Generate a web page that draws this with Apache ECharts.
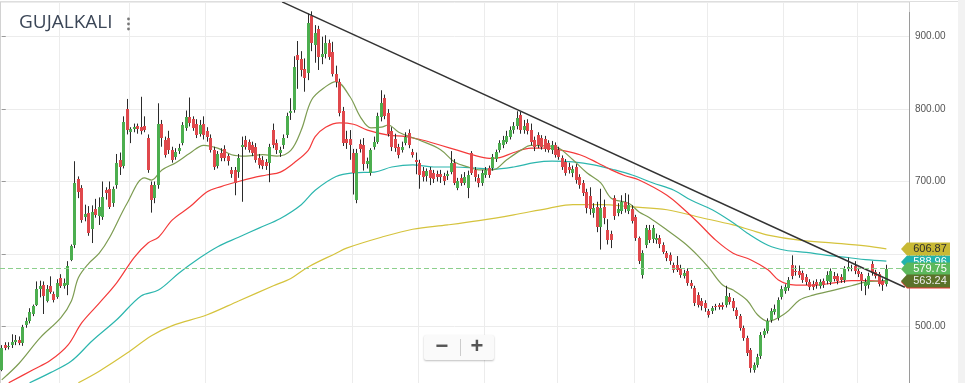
<!DOCTYPE html>
<html><head><meta charset="utf-8">
<script src="https://cdn.jsdelivr.net/npm/echarts@6/dist/echarts.min.js"></script>
<style>html,body{margin:0;padding:0;background:#fff;overflow:hidden}#c{width:965px;height:383px;}</style>
</head><body><div id="c"></div>
<script>
const chartTitle = 'GUJALKALI';
const opens = [440,474,471,474,478,481,477,502,507,517,530,551,557,535,556,545,540,567,556,557,592,612,704,691,651,656,634,662,652,651,688,689,670,695,730,722,800,768,772,776,775,777,760,695,677,695,779,757,760,743,734,742,753,774,789,786,779,766,779,770,760,744,722,740,745,735,716,716,713,747,757,755,750,748,732,730,727,726,771,753,740,751,764,795,799,875,869,856,850,928,889,910,872,876,891,879,849,838,797,758,758,739,674,752,750,724,712,748,755,789,815,795,770,758,748,744,753,767,741,730,725,715,708,716,712,711,711,708,707,713,726,691,705,698,691,739,716,705,698,709,718,719,731,743,750,755,762,771,776,792,771,781,771,757,764,760,759,753,743,750,743,732,727,720,712,720,706,698,686,680,657,665,637,665,633,628,677,657,659,672,659,662,651,622,571,612,633,620,619,622,612,601,598,584,584,581,570,576,560,553,543,535,532,521,521,528,529,529,530,541,535,522,514,498,484,467,440,447,459,488,494,509,520,512,541,549,553,584,577,577,573,568,561,559,561,556,562,562,561,570,569,568,564,579,579,583,577,572,555,557,586,575,572,562,559];
const closes = [470,470,473,479,481,477,499,507,520,528,551,555,542,551,547,536,560,556,560,583,611,698,686,647,655,629,658,654,665,679,684,665,689,725,720,782,771,772,775,773,770,771,716,674,695,779,760,737,743,730,741,746,778,789,781,774,764,778,764,762,744,720,738,733,732,728,710,698,733,750,748,743,739,730,723,722,721,748,750,743,744,760,790,798,858,868,854,843,919,891,905,872,876,891,872,849,838,794,753,753,750,712,739,745,724,728,743,754,790,808,790,765,748,746,737,748,762,750,737,727,709,706,714,705,703,706,706,701,710,725,698,700,698,706,709,712,706,698,712,716,709,734,741,753,757,763,771,776,788,771,776,770,755,747,751,748,745,744,751,737,734,720,712,716,717,702,695,684,663,662,663,637,663,649,619,619,652,662,672,662,668,646,622,590,601,636,619,636,622,613,603,594,590,578,578,571,574,560,556,532,530,528,525,516,525,526,526,527,542,534,525,514,498,484,463,443,446,458,488,494,507,521,524,536,552,554,564,569,575,571,564,561,554,554,557,561,557,571,577,566,562,564,579,582,581,576,572,562,561,570,574,570,559,557,579.75];
const highs = [474,478,478,489,488,486,502,512,525,530,562,563,562,557,569,548,565,572,566,590,613,728,707,695,668,666,667,676,678,700,692,700,693,738,740,790,814,775,780,780,817,790,765,700,700,808,785,762,770,748,746,752,782,798,816,790,786,785,790,775,765,748,742,746,750,738,720,720,738,762,763,758,755,753,738,735,731,752,780,758,748,765,795,815,873,894,880,870,932,935,916,915,900,902,896,893,860,842,803,770,771,745,745,758,760,733,746,762,795,826,820,800,775,766,752,755,768,772,745,740,730,720,718,720,716,715,716,712,715,742,731,705,710,713,715,742,720,710,716,720,722,738,744,757,763,770,776,782,797,796,785,786,780,762,768,764,763,757,756,754,748,736,731,726,722,724,710,702,690,692,670,672,690,675,648,632,681,670,681,684,682,667,654,624,605,640,640,640,628,626,616,604,602,588,597,585,578,580,564,556,547,539,536,524,528,531,532,533,556,546,539,526,517,501,487,470,450,462,492,497,511,525,530,540,556,558,568,598,584,584,577,572,565,563,565,565,566,576,580,575,573,572,583,595,585,590,581,575,566,574,590,578,575,566,585];
const lows = [438,467,468,470,474,474,473,498,504,514,528,540,517,533,545,533,538,553,552,543,590,608,677,643,645,625,615,650,640,647,675,662,665,690,709,718,765,753,768,766,765,768,712,657,670,690,748,733,738,726,730,738,750,770,776,770,760,762,758,755,740,716,718,728,728,722,705,681,705,672,744,740,735,726,718,717,716,699,746,738,734,745,760,785,795,828,845,824,840,880,864,854,862,870,868,845,830,790,749,745,730,682,670,740,715,718,708,744,752,783,786,762,742,741,732,740,750,746,733,710,690,700,700,695,698,700,698,695,702,710,695,688,694,695,677,709,700,692,694,705,705,715,727,740,746,752,758,766,772,766,766,765,750,742,746,744,741,740,738,733,730,716,708,711,706,697,690,680,656,654,650,630,606,641,613,608,647,652,655,657,655,642,618,586,566,608,615,615,614,608,600,590,585,574,575,567,566,556,552,528,526,522,520,512,517,522,523,523,526,530,521,510,494,480,459,436,436,443,455,484,490,505,516,508,537,545,549,565,570,567,560,557,550,550,552,552,553,558,557,562,558,560,560,576,576,572,568,549,543,552,570,566,555,549,555];
const emptySlots = 6;
const monthStarts = [17,37,59,101,120,139,160,182,203,225,246];
const yearStart = 78;

const fastDays = [0,5,11,17,20,22,25,28,31,36,41,43,46,50,54,58,62,66,70,75,79,83,86,89,93,96,100,103,106,109,111,114,120,126,130,134,137,141,145,149,152,157,160,164,168,172,175,180,183,186,191,196,200,203,207,210,214,217,220,225,229,233,239,244,248,254];
const fastVals = [426,449,484,512,535,567,587,601,623,670,705,702,716,726,739,750,746,737,735,737,735,743,771,813,831,838,817,789,774,775,778,768,757,744,727,720,716,716,730,743,750,749,746,730,712,698,677,670,658,650,633,615,597,581,557,550,536,516,507,518,536,543,550,556,561,563.24];
const redDays = [2,9,14,19,23,28,33,38,42,45,49,54,59,63,68,72,76,80,84,88,90,93,97,101,105,111,116,121,126,131,135,140,143,147,152,157,161,166,171,175,179,183,191,196,200,205,210,215,220,223,226,229,234,239,244,248,254];
const redVals = [422,440,453,474,505,532,560,595,615,623,647,665,686,693,700,705,709,713,726,743,762,775,781,779,771,764,762,757,750,743,737,732,733,740,746,746,743,737,726,716,708,702,681,661,643,619,601,592,578,564,558,557,557,560,563,563,561];
const tealDays = [8,14,20,26,33,40,45,51,57,62,68,74,80,86,90,96,101,107,112,118,124,130,135,141,147,153,158,164,170,176,181,187,193,198,204,210,214,220,225,231,237,243,248,254];
const tealVals = [422,436,452,480,509,542,550,574,595,610,623,636,649,668,688,707,712,713,720,723,720,720,719,717,720,726,728,727,723,716,709,698,688,674,661,643,629,612,605,602,598,595,592,590];
const yellowDays = [22,28,36,43,49,59,68,78,83,88,96,99,109,118,128,137,147,157,164,172,181,191,200,210,215,220,229,239,248,254];
const yellowVals = [422,438,463,487,501,516,535,556,566,582,601,608,623,634,640,646,654,663,668,668,665,661,651,640,633,626,619,615,611,607];
const trendDays = [80.5, 259.3];
const trendVals = [948, 554];
const lastClose = 579.75;
const tagValues = [588.96, 560.87, 606.87, 579.75, 563.24];
const tagLabels = ['588.96', '560.87', '606.87', '579.75', '563.24'];

const tagFill = ['#22b3ab', '#e53935', '#c8b935', '#5cb85c', '#5b7229'];
const tagInk = ['#ffffff', '#ffffff', '#2e2e2e', '#ffffff', '#ececec'];

const chart = echarts.init(document.getElementById('c'), null, {renderer: 'canvas'});
const nCat = opens.length + emptySlots;
const categories = [];
for (let i = 0; i < nCat; i++) categories.push(String(i + 1));
const candleData = opens.map((o, i) => [i, o, closes[i], lows[i], highs[i]]);
const pairs = (d, v) => d.map((x, i) => [x, v[i]]);

const maLine = (name, days, vals, color, z, extra) => Object.assign({
  type: 'line', name, xAxisIndex: 1, yAxisIndex: 0, data: pairs(days, vals),
  smooth: 0.35, showSymbol: false, symbol: 'none', z,
  lineStyle: {color, width: 1.2}, silent: true
}, extra || {});

chart.setOption({
  animation: false,
  backgroundColor: '#ffffff',
  grid: {left: 0, right: 56, top: 2, bottom: 0, outerBoundsMode: 'none'},
  xAxis: [
    {type: 'category', data: categories, boundaryGap: true,
     axisLine: {show: false}, axisTick: {show: false}, axisLabel: {show: false},
     splitLine: {show: true, interval: (i) => monthStarts.includes(i), lineStyle: {color: '#ececec', width: 1}}},
    {type: 'value', min: -0.5, max: nCat - 0.5, show: false},
    {type: 'category', data: categories, boundaryGap: true, position: 'bottom',
     axisLine: {show: false}, axisTick: {show: false}, axisLabel: {show: false},
     splitLine: {show: true, interval: (i) => i === yearStart, lineStyle: {color: '#d2d2d2', width: 1}}}
  ],
  yAxis: {
    type: 'value', position: 'right', min: 421.7, max: 947.9, splitNumber: 5,
    axisLine: {show: false},
    axisTick: {show: true, length: 4, lineStyle: {color: '#999'}},
    axisLabel: {margin: 6, fontSize: 10, color: '#555', fontFamily: 'Liberation Sans',
      formatter: (v) => v.toFixed(2), showMinLabel: false, showMaxLabel: false},
    splitLine: {show: true, lineStyle: {color: '#ececec', width: 1}}
  },
  series: [
    maLine('MA200', yellowDays, yellowVals, '#d5c33d', 2, {
      markLine: {silent: true, symbol: ['none', 'none'], label: {show: false},
        lineStyle: {color: '#8ccf8c', type: [5, 3], width: 1},
        data: [{yAxis: lastClose}]}
    }),
    maLine('MA100', tealDays, tealVals, '#2cb6ae', 2),
    maLine('MA50', redDays, redVals, '#f43a3a', 2),
    maLine('MA20', fastDays, fastVals, '#7d9c52', 2),
    {
      type: 'custom', name: 'GUJALKALI', xAxisIndex: 0, yAxisIndex: 0, data: candleData,
      encode: {x: 0, y: [1, 2, 3, 4]}, z: 3, clip: true, silent: true,
      renderItem: (params, api) => {
        const i = api.value(0), o = api.value(1), c = api.value(2), l = api.value(3), h = api.value(4);
        const pO = api.coord([i, o]);
        const x = Math.floor(pO[0]);
        const yC = api.coord([i, c])[1], yH = api.coord([i, h])[1], yL = api.coord([i, l])[1];
        const top = Math.round(Math.min(pO[1], yC)), bot = Math.round(Math.max(pO[1], yC));
        const up = c >= o;
        return {type: 'group', children: [
          {type: 'line', shape: {x1: x + 0.5, y1: yH, x2: x + 0.5, y2: yL}, style: {stroke: '#2a2a2a', lineWidth: 1}},
          {type: 'rect', shape: {x: x - 1, y: top, width: 3, height: Math.max(1, bot - top)}, style: {fill: up ? '#4cae4f' : '#e0484c'}}
        ]};
      }
    },
    {type: 'line', name: 'trend', xAxisIndex: 1, yAxisIndex: 0, data: pairs(trendDays, trendVals),
     showSymbol: false, symbol: 'none', z: 4, silent: true, lineStyle: {color: '#333333', width: 1.5}}
  ]
});

const g = [
  {type: 'rect', shape: {x: 958, y: 0, width: 7, height: 383}, style: {fill: '#f2f2f2'}, z: 50},
  {type: 'line', shape: {x1: 0, y1: 1.5, x2: 958, y2: 1.5}, style: {stroke: '#dedede', lineWidth: 1}, z: 50},
  {type: 'line', shape: {x1: 909.5, y1: 12, x2: 909.5, y2: 383}, style: {stroke: '#9a9a9a', lineWidth: 1}, z: 50},
  {type: 'text', x: 19, y: 23, style: {text: chartTitle, fill: '#3b4657', font: '19px "Open Sans"', textAlign: 'left', textVerticalAlign: 'middle', verticalAlign: 'middle'}, z: 60},
  {type: 'circle', shape: {cx: 128.5, cy: 19, r: 1.4}, style: {fill: '#777'}, z: 60},
  {type: 'circle', shape: {cx: 128.5, cy: 24, r: 1.4}, style: {fill: '#777'}, z: 60},
  {type: 'circle', shape: {cx: 128.5, cy: 29, r: 1.4}, style: {fill: '#777'}, z: 60},
  {type: 'rect', shape: {x: 424, y: 335, width: 70, height: 25, r: 2}, style: {fill: '#fafafa', shadowBlur: 2, shadowColor: 'rgba(0,0,0,0.25)', shadowOffsetY: 1}, z: 60},
  {type: 'line', shape: {x1: 460.5, y1: 339, x2: 460.5, y2: 356}, style: {stroke: '#cccccc', lineWidth: 1}, z: 61},
  {type: 'text', x: 442, y: 347, style: {text: '\u2212', fill: '#555', font: 'bold 22px "Liberation Sans"', textAlign: 'center', textVerticalAlign: 'middle', verticalAlign: 'middle'}, z: 62},
  {type: 'text', x: 477, y: 347, style: {text: '+', fill: '#555', font: 'bold 22px "Liberation Sans"', textAlign: 'center', textVerticalAlign: 'middle', verticalAlign: 'middle'}, z: 62}
];
tagValues.forEach((v, k) => {
  const y = Math.round(chart.convertToPixel({yAxisIndex: 0}, v));
  g.push({type: 'polygon', shape: {points: [[901, y], [907, y - 6.5], [950, y - 6.5], [950, y + 6.5], [907, y + 6.5]]}, style: {fill: tagFill[k]}, z: 100 + k * 2});
  g.push({type: 'text', x: 930, y: y, style: {text: tagLabels[k], fill: tagInk[k], font: '11px "Liberation Sans"', textAlign: 'center', textVerticalAlign: 'middle', verticalAlign: 'middle'}, z: 101 + k * 2});
});
chart.setOption({graphic: g});
</script>
</body></html>
